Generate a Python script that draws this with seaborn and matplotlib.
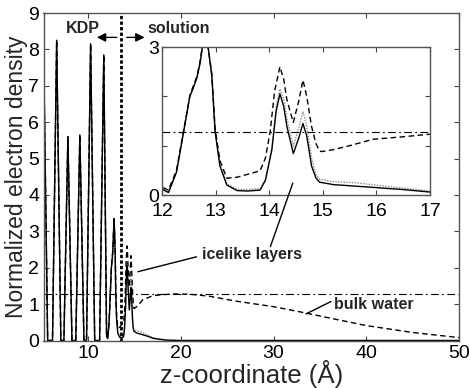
import numpy as np
import pandas as pd
import matplotlib
matplotlib.use("Agg")
import matplotlib.pyplot as plt
import seaborn as sns

# ---------------- data ----------------
# KDP crystal region, shared by all three profiles
kdp_z   = [5.20, 5.65, 6.17, 6.62, 7.07, 7.40, 7.83, 8.27, 8.68, 9.12, 9.56, 9.84,
           10.28, 10.72, 11.25, 11.70]
kdp_rho = [8.20, 0.00, 0.00, 8.25, 0.00, 0.00, 5.60, 0.00, 0.00, 5.65, 0.00, 0.00,
           8.15, 0.00, 0.00, 7.85]

# interface / solution region, solid profile
solid_z   = [12.00, 12.12, 12.27, 12.40, 12.52, 12.58, 12.65, 12.71, 12.75, 12.81, 12.86,
             12.93, 12.99, 13.08, 13.21, 13.40, 13.60, 13.83, 13.93, 14.05, 14.13, 14.20,
             14.27, 14.33, 14.45, 14.55, 14.63, 14.70, 14.79, 14.87, 14.94, 15.20, 15.60,
             16.00, 16.50, 17.00, 17.80, 18.50, 20.00, 50.00]
solid_rho = [0.12, 0.05, 0.46, 1.26, 2.00, 2.16, 2.37, 2.67, 2.97, 3.35, 3.00,
             2.40, 1.29, 0.59, 0.20, 0.09, 0.08, 0.10, 0.30, 0.92, 1.70, 2.05,
             1.80, 1.39, 0.84, 1.15, 1.45, 1.20, 0.59, 0.35, 0.26, 0.21, 0.18,
             0.15, 0.11, 0.06, 0.03, 0.01, 0.00, 0.00]

# dotted profile
dotted_z   = [12.00, 12.12, 12.27, 12.40, 12.52, 12.58, 12.65, 12.71, 12.75, 12.81, 12.86,
              12.93, 12.99, 13.08, 13.21, 13.40, 13.60, 13.83, 13.93, 14.05, 14.13, 14.20,
              14.27, 14.33, 14.45, 14.55, 14.63, 14.70, 14.79, 14.87, 14.94, 15.20, 15.60,
              16.00, 16.50, 17.00, 17.80, 18.50, 20.00, 50.00]
dotted_rho = [0.13, 0.06, 0.47, 1.27, 2.01, 2.17, 2.38, 2.68, 2.98, 3.33, 3.00,
              2.42, 1.31, 0.62, 0.23, 0.12, 0.11, 0.13, 0.33, 0.95, 1.80, 2.15,
              1.95, 1.55, 0.99, 1.35, 1.69, 1.40, 0.75, 0.42, 0.32, 0.27, 0.25,
              0.20, 0.14, 0.08, 0.04, 0.01, 0.00, 0.00]

# dashed profile
dashed_z   = [12.00, 12.12, 12.27, 12.40, 12.52, 12.58, 12.65, 12.71, 12.75, 12.81, 12.86,
              12.93, 12.99, 13.08, 13.21, 13.40, 13.60, 13.83, 13.93, 14.02, 14.10, 14.20,
              14.27, 14.33, 14.45, 14.55, 14.63, 14.70, 14.79, 14.87, 14.94, 14.98, 15.20,
              15.50, 15.94, 16.50, 16.97, 18.00, 19.50, 21.00, 23.00, 26.00, 30.00, 33.00,
              36.00, 40.00, 45.00, 50.00]
dashed_rho = [0.16, 0.10, 0.50, 1.28, 2.02, 2.20, 2.40, 2.70, 3.00, 3.30, 3.00,
              2.45, 1.35, 0.70, 0.34, 0.36, 0.42, 0.49, 0.75, 1.30, 2.10, 2.60,
              2.35, 1.93, 1.47, 1.90, 2.33, 2.00, 1.39, 1.05, 0.89, 0.88, 0.92,
              1.00, 1.13, 1.18, 1.23, 1.26, 1.28, 1.27, 1.22, 1.08, 0.93, 0.78,
              0.62, 0.41, 0.22, 0.08]

bulk_density = 1.28        # horizontal dash-dot reference
interface_z = 13.55        # vertical dotted line (KDP | solution)

# ---------------- styling ----------------
sns.set_theme(style="ticks")
plt.rcParams['font.family'] = ['Liberation Sans', 'DejaVu Sans']
plt.rcParams.update({
    'xtick.direction': 'in', 'ytick.direction': 'in',
    'xtick.top': True, 'ytick.right': True,
    'xtick.major.size': 3.5, 'ytick.major.size': 3.5,
    'xtick.major.width': 0.8, 'ytick.major.width': 0.8,
    'xtick.color': '#444444', 'ytick.color': '#444444',
    'xtick.labelcolor': 'black', 'ytick.labelcolor': 'black',
    'axes.edgecolor': '#555555', 'axes.linewidth': 1.0,
})

frames = []
for name, zz, rr in [("solid", solid_z, solid_rho),
                     ("dotted", dotted_z, dotted_rho),
                     ("dashed", dashed_z, dashed_rho)]:
    frames.append(pd.DataFrame({"z": kdp_z + zz, "rho": kdp_rho + rr, "run": name}))
df = pd.concat(frames, ignore_index=True)

styles = {
    "dotted": dict(color="#8a8a8a", linestyle=(0, (1, 1)), lw=1.0),
    "solid":  dict(color="black", linestyle="-", lw=1.0),
    "dashed": dict(color="black", linestyle=(0, (4, 2.5)), lw=1.0),
}

W, H = 470, 388
fig = plt.figure(figsize=(W / 100, H / 100), dpi=100)
ax = fig.add_axes([43.5 / W, (H - 340.5) / H, 415.5 / W, 327.5 / H])

for name in ["dotted", "solid", "dashed"]:
    sub = df[df.run == name]
    sns.lineplot(data=sub, x="z", y="rho", ax=ax, sort=False, estimator=None,
                 legend=False, **styles[name])

ax.axhline(bulk_density, color="black", lw=0.8, linestyle=(0, (7, 3, 1.5, 3)))
ax.axvline(interface_z, color="black", lw=2.0, linestyle=(0, (1.2, 0.8)))

ax.set_xlim(5.2, 50)
ax.set_ylim(0, 9)
ax.set_xticks([10, 20, 30, 40, 50])
ax.set_yticks(range(0, 10))
ax.tick_params(labelsize=14, pad=3)
ax.set_xlabel("z-coordinate (Å)", fontsize=18.5, labelpad=-1)
ax.set_ylabel("Normalized electron density", fontsize=16.5, labelpad=0)

# annotations in main axes
ax.text(9.45, 8.58, "KDP", ha="center", va="center", fontsize=11.5, weight="bold")
ax.text(16.4, 8.58, "solution", ha="left", va="center", fontsize=11.5, weight="bold")
arr = dict(arrowstyle="-|>", lw=1.0, color="black", mutation_scale=13, shrinkA=0, shrinkB=0)
ax.annotate("", xy=(10.95, 8.33), xytext=(13.1, 8.33), arrowprops=arr)
ax.annotate("", xy=(16.1, 8.33), xytext=(14.18, 8.33), arrowprops=arr)

ax.text(22.24, 2.36, "icelike layers", ha="left", va="center", fontsize=11.5, weight="bold")
ax.annotate("", xy=(15.37, 1.89), xytext=(21.7, 2.30),
            arrowprops=dict(arrowstyle="-", lw=1.0, color="black", shrinkA=0, shrinkB=0))
ax.text(36.54, 0.98, "bulk water", ha="left", va="center", fontsize=11.5, weight="bold")
ax.annotate("", xy=(33.5, 0.73), xytext=(36.19, 1.07),
            arrowprops=dict(arrowstyle="-", lw=1.0, color="black", shrinkA=0, shrinkB=0))

# ---------------- inset ----------------
axins = fig.add_axes([162 / W, (H - 195) / H, 268 / W, 148 / H])
for name in ["dotted", "solid", "dashed"]:
    sub = df[df.run == name]
    sns.lineplot(data=sub, x="z", y="rho", ax=axins, sort=False, estimator=None,
                 legend=False, **styles[name])
axins.axhline(bulk_density, color="black", lw=0.8, linestyle=(0, (7, 3, 1.5, 3)))
axins.set_xlim(12, 17)
axins.set_ylim(0, 3)
axins.set_xticks([12, 13, 14, 15, 16, 17])
axins.set_yticks([0, 1, 2, 3])
axins.set_yticklabels(["0", "", "", "3"])
axins.tick_params(axis="y", labelsize=14, pad=2)
axins.tick_params(axis="x", labelsize=14, pad=6)
axins.set_xlabel("")
axins.set_ylabel("")

axins.annotate("", xy=(14.44, 0.24), xycoords=axins.transData,
               xytext=(29.66, 2.58), textcoords=ax.transData, annotation_clip=False,
               arrowprops=dict(arrowstyle="-", lw=1.0, color="black", shrinkA=0, shrinkB=0))

fig.savefig("out.png", dpi=100)
